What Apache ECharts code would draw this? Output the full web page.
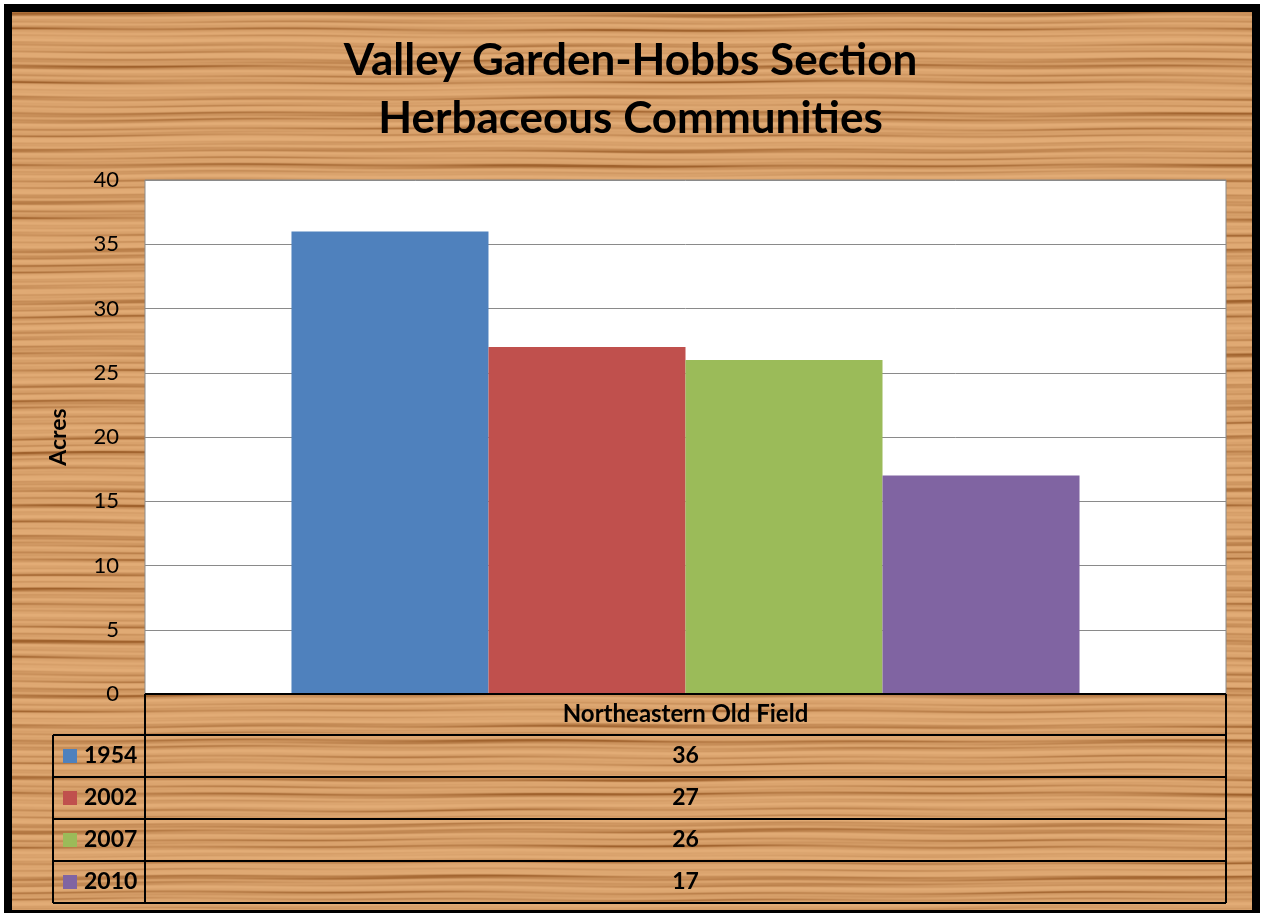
<!DOCTYPE html>
<html>
<head>
<meta charset="utf-8">
<script src="https://cdn.jsdelivr.net/npm/echarts@6/dist/echarts.min.js"></script>
<style>
  html, body { margin: 0; padding: 0; background: #ffffff; }
  #frame {
    position: absolute; left: 4px; top: 4px; width: 1256px; height: 914px;
    box-sizing: border-box; border: 8px solid #000; background-color: #d49c62; overflow: hidden;
  }
  #wood { position: absolute; left: 0; top: 0; }
  #chart { position: absolute; left: 0; top: 0; width: 1261px; height: 913px; }
</style>
</head>
<body>
<div id="frame"><canvas id="wood" width="1240" height="898"></canvas></div>
<div id="chart"></div>
<script>
// ---- data ----
const titleLines = ['Valley Garden-Hobbs Section', 'Herbaceous Communities'];
const categories = ['Northeastern Old Field'];
const seriesNames = ['1954', '2002', '2007', '2010'];
const values1954 = [36];
const values2002 = [27];
const values2007 = [26];
const values2010 = [17];
const yTicks = [0, 5, 10, 15, 20, 25, 30, 35, 40];
const yAxisName = 'Acres';
const seriesColors = ['#4F81BD', '#C0504D', '#9BBB59', '#8064A2'];

const seriesValues = [values1954, values2002, values2007, values2010];
const FONT = 'Lato, "Liberation Sans", sans-serif';

// ---- decorative wood-grain background (deterministic) ----
(function drawWood() {
  const cv = document.getElementById('wood');
  const ctx = cv.getContext('2d');
  const w = cv.width, h = cv.height;
  const img = ctx.createImageData(w, h);
  const light = [226, 172, 118], dark = [160, 98, 45];
  for (let y = 0; y < h; y++) {
    for (let x = 0; x < w; x++) {
      const yy = y + 0.9 * Math.sin(x * 0.006 + y * 0.043) + 0.6 * Math.sin(x * 0.021 + 2.0 + y * 0.01);
      let g = 0.48 + 0.2 * Math.sin(yy * 0.83) + 0.16 * Math.sin(yy * 0.37 + 1.3)
            + 0.07 * Math.sin(yy * 1.9 + 0.5) + 0.08 * Math.sin(yy * 0.131 + 0.7);
      const seg = 0.5 + 0.5 * Math.sin(x * 0.013 + yy * 0.7) * Math.sin(x * 0.0051 + yy * 0.23 + 1.1);
      g = g * (0.75 + 0.45 * seg);
      g = Math.min(1, Math.max(0, g));
      const d = Math.pow(g, 2.2);
      const i = (y * w + x) * 4;
      img.data[i] = light[0] + (dark[0] - light[0]) * d;
      img.data[i + 1] = light[1] + (dark[1] - light[1]) * d;
      img.data[i + 2] = light[2] + (dark[2] - light[2]) * d;
      img.data[i + 3] = 255;
    }
  }
  ctx.putImageData(img, 0, 0);
})();

const chart = echarts.init(document.getElementById('chart'), null, { renderer: 'canvas' });

const GRID = { left: 145, right: 35, top: 180, bottom: 219 };

const option = {
  backgroundColor: 'transparent',
  animation: false,
  title: {
    text: titleLines.join('\n'),
    left: 'center',
    top: 27,
    textStyle: { fontFamily: FONT, fontWeight: 'bold', fontSize: 44, lineHeight: 58, color: '#000' }
  },
  grid: {
    left: GRID.left, right: GRID.right, top: GRID.top, bottom: GRID.bottom,
    show: true, backgroundColor: '#ffffff', borderColor: '#8a8a8a', borderWidth: 1
  },
  xAxis: {
    type: 'category',
    data: categories,
    axisLine: { show: false },
    axisTick: { show: false },
    axisLabel: { show: false }
  },
  yAxis: {
    type: 'value',
    min: yTicks[0],
    max: yTicks[yTicks.length - 1],
    interval: yTicks[1] - yTicks[0],
    name: yAxisName,
    nameLocation: 'middle',
    nameRotate: 90,
    nameGap: 75,
    nameTextStyle: { fontFamily: FONT, fontWeight: 'bold', fontSize: 23, color: '#000' },
    axisLine: { show: false },
    axisTick: { show: false },
    axisLabel: { fontFamily: FONT, fontSize: 22, color: '#000', margin: 26 },
    splitLine: { lineStyle: { color: '#8a8a8a', width: 1 } }
  },
  series: seriesNames.map((name, i) => ({
    name: name,
    type: 'bar',
    data: seriesValues[i],
    barGap: '0%',
    barCategoryGap: '27.1%',
    itemStyle: { color: seriesColors[i] }
  }))
};
chart.setOption(option);

// ---- data table below the plot ----
function buildTable() {
  const W = chart.getWidth(), H = chart.getHeight();
  const x0 = GRID.left, x1 = W - GRID.right;
  const top = H - GRID.bottom;
  const headerH = 41, rowH = 42;
  const legendLeft = 53;
  const els = [];
  const line = (ax, ay, bx, by) => els.push({
    type: 'line', shape: { x1: ax, y1: ay, x2: bx, y2: by },
    style: { stroke: '#000', lineWidth: 2 }, z: 10
  });
  const text = (t, x, y, align, size) => els.push({
    type: 'text', x: x, y: y,
    style: { text: t, fontFamily: FONT, fontWeight: 'bold', fontSize: size || 23, fill: '#000',
             align: align || 'center', verticalAlign: 'middle' }, z: 11
  });
  const nRows = seriesNames.length;
  const bottom = top + headerH + nRows * rowH;
  line(x0, top, x1, top);
  line(x0, top, x0, bottom);
  line(x1, top, x1, bottom);
  const cx = chart.convertToPixel({ xAxisIndex: 0 }, 0);
  text(categories[0], cx, top + headerH / 2, 'center', 24);
  for (let i = 0; i < nRows; i++) {
    const ry = top + headerH + i * rowH;
    line(legendLeft, ry, x1, ry);
    const my = ry + rowH / 2;
    els.push({ type: 'rect', shape: { x: legendLeft + 10, y: my - 7, width: 14, height: 14 },
               style: { fill: seriesColors[i] }, z: 11 });
    text(seriesNames[i], legendLeft + 31, my, 'left');
    text(String(seriesValues[i][0]), cx, my);
  }
  line(legendLeft, bottom, x1, bottom);
  line(legendLeft, top + headerH, legendLeft, bottom);
  chart.setOption({ graphic: { elements: els } });
}
buildTable();
</script>
</body>
</html>
